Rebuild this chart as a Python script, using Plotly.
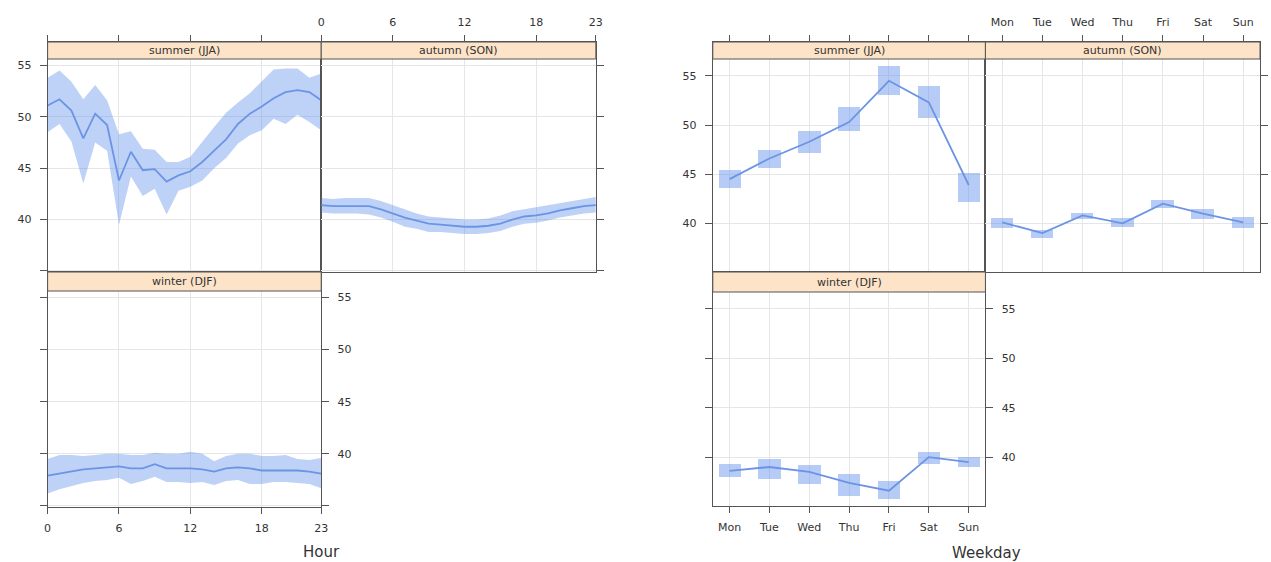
import plotly.graph_objects as go

W, H = 1271, 562

# ---- hourly means and confidence bands ----
hours = list(range(24))

summer_hour_mean = [51.1, 51.7, 50.6, 47.9, 50.3, 49.2, 43.8, 46.6, 44.8, 44.9, 43.7, 44.3,
                    44.7, 45.6, 46.7, 47.8, 49.3, 50.3, 51.0, 51.8, 52.4, 52.6, 52.4, 51.6]
summer_hour_upper = [53.8, 54.5, 53.4, 51.7, 53.1, 51.6, 48.3, 48.6, 46.9, 46.8, 45.6, 45.6,
                     46.1, 47.6, 49.0, 50.4, 51.4, 52.3, 53.4, 54.6, 54.7, 54.7, 53.8, 54.2]
summer_hour_lower = [48.5, 49.3, 47.6, 43.5, 47.5, 46.7, 39.5, 44.2, 42.3, 43.0, 40.5, 42.8,
                     43.2, 43.8, 45.0, 46.0, 47.4, 48.2, 48.7, 49.8, 49.3, 50.2, 49.5, 48.7]

autumn_hour_mean = [41.4, 41.3, 41.3, 41.3, 41.3, 41.0, 40.6, 40.2, 39.9, 39.6, 39.5, 39.4,
                    39.3, 39.3, 39.4, 39.6, 40.0, 40.3, 40.4, 40.6, 40.9, 41.1, 41.3, 41.4]
autumn_hour_upper = [42.1, 42.0, 42.1, 42.1, 42.1, 41.8, 41.4, 41.0, 40.6, 40.3, 40.2, 40.1,
                     40.0, 40.0, 40.1, 40.4, 40.8, 41.0, 41.2, 41.4, 41.6, 41.8, 42.0, 42.2]
autumn_hour_lower = [40.7, 40.6, 40.6, 40.6, 40.5, 40.2, 39.8, 39.3, 39.1, 38.8, 38.8, 38.7,
                     38.6, 38.6, 38.7, 38.9, 39.3, 39.6, 39.7, 39.9, 40.2, 40.4, 40.6, 40.7]

winter_hour_mean = [37.9, 38.1, 38.3, 38.5, 38.6, 38.7, 38.8, 38.6, 38.6, 39.0, 38.6, 38.6,
                    38.6, 38.5, 38.3, 38.6, 38.7, 38.6, 38.4, 38.4, 38.4, 38.4, 38.3, 38.1]
winter_hour_upper = [39.5, 39.9, 39.9, 39.8, 39.9, 40.0, 40.0, 39.9, 39.9, 40.1, 40.0, 40.0,
                     40.2, 40.0, 39.3, 39.8, 40.0, 40.0, 39.8, 39.8, 39.9, 39.5, 39.4, 39.6]
winter_hour_lower = [36.2, 36.6, 36.9, 37.2, 37.4, 37.5, 37.7, 37.1, 37.4, 37.8, 37.3, 37.3,
                     37.2, 37.3, 37.0, 37.4, 37.5, 37.1, 37.1, 37.3, 37.3, 37.2, 37.1, 36.7]

# ---- weekday means and confidence intervals ----
weekdays = ["Mon", "Tue", "Wed", "Thu", "Fri", "Sat", "Sun"]

summer_day_mean = [44.5, 46.6, 48.3, 50.3, 54.5, 52.3, 43.9]
summer_day_upper = [45.4, 47.5, 49.4, 51.8, 56.0, 54.0, 45.1]
summer_day_lower = [43.6, 45.6, 47.2, 49.4, 53.1, 50.7, 42.2]

autumn_day_mean = [40.1, 39.0, 40.8, 40.0, 42.0, 41.0, 40.1]
autumn_day_upper = [40.5, 39.3, 41.1, 40.5, 42.4, 41.5, 40.6]
autumn_day_lower = [39.5, 38.5, 40.4, 39.6, 41.6, 40.4, 39.5]

winter_day_mean = [38.6, 39.0, 38.5, 37.4, 36.6, 40.0, 39.5]
winter_day_upper = [39.3, 39.8, 39.2, 38.3, 37.6, 40.5, 40.0]
winter_day_lower = [38.0, 37.8, 37.3, 36.1, 35.8, 39.3, 39.0]

hour_ticks = [0, 6, 12, 18, 23]
y_ticks = [35, 40, 45, 50, 55]
y_ticktext = ["", "40", "45", "50", "55"]

LINE = "rgb(108,148,228)"
BAND = "rgba(100,145,235,0.42)"
BOX = "rgba(100,145,235,0.47)"
STRIP = "#fde3c7"
FRAME = "#555555"
GRID = "#e6e6e6"
TXT = "#333333"
FONT = "DejaVu Sans, sans-serif"


def px_x(p):
    return p / W


def px_y(p):
    return 1 - p / H


fig = go.Figure()

# panel geometry in pixels: (left, right, strip_top, strip_bottom, plot_bottom)
panels = {
    "hs": (44, 320, 42, 59, 272),
    "ha": (320, 597, 42, 59, 272),
    "hw": (44, 320, 272, 291, 507),
    "ds": (715, 990, 42, 59, 272),
    "da": (990, 1267, 42, 59, 272),
    "dw": (715, 990, 272, 292, 506),
}
# y scale of each chart: value at the strip bottom and at the plot bottom
hour_y = (55.62, 34.9)
day_y = (56.72, 35.05)

axis_ids = {"hs": 1, "ha": 2, "hw": 3, "ds": 4, "da": 5, "dw": 6}
strip_names = {"hs": "summer (JJA)", "ha": "autumn (SON)", "hw": "winter (DJF)",
               "ds": "summer (JJA)", "da": "autumn (SON)", "dw": "winter (DJF)"}

shapes = []
annotations = []

for key, (l, r, st, sb, pb) in panels.items():
    n = axis_ids[key]
    xa = "xaxis" if n == 1 else f"xaxis{n}"
    ya = "yaxis" if n == 1 else f"yaxis{n}"
    ytop_v, ybot_v = hour_y if key[0] == "h" else day_y
    # extend the range so the strip sits inside the axis domain
    per_px = (ytop_v - ybot_v) / (pb - sb)
    yr = [ybot_v, ytop_v + (sb - st) * per_px]

    row = key[1]
    is_hour = key[0] == "h"
    xcfg = dict(
        domain=[px_x(l), px_x(r)], anchor=f"y{n}" if n > 1 else "y",
        showline=True, linecolor=FRAME, linewidth=1, mirror=True,
        showgrid=True, gridcolor=GRID, gridwidth=1, zeroline=False,
        ticks="outside", ticklen=6, tickcolor=FRAME, ticklabelstandoff=5,
        tickfont=dict(size=11, color=TXT, family=FONT),
    )
    if is_hour:
        xcfg.update(range=[0, 23], tickvals=hour_ticks, ticktext=[str(t) for t in hour_ticks])
    else:
        xcfg.update(range=[0.58, 7.42], tickvals=list(range(1, 8)), ticktext=weekdays)
    if row == "s":
        xcfg.update(side="top", showticklabels=False)
    elif row == "a":
        xcfg.update(side="top", showticklabels=True)
    else:
        xcfg.update(side="bottom", showticklabels=True)

    ycfg = dict(
        domain=[px_y(pb), px_y(st)], anchor=f"x{n}" if n > 1 else "x",
        range=yr, showline=True, linecolor=FRAME, linewidth=1, mirror=True,
        showgrid=True, gridcolor=GRID, gridwidth=1, zeroline=False,
        ticks="outside", ticklen=7, tickcolor=FRAME, ticklabelstandoff=6,
        tickvals=y_ticks, ticktext=y_ticktext,
        tickfont=dict(size=11, color=TXT, family=FONT),
    )
    if row == "s":
        ycfg.update(side="left", showticklabels=True)
    elif row == "a":
        ycfg.update(side="right", showticklabels=False)
    else:
        ycfg.update(side="right", showticklabels=True, mirror="ticks")

    fig.update_layout(**{xa: xcfg, ya: ycfg})

    # strip with its label
    shapes.append(dict(type="rect", xref="paper", yref="paper",
                       x0=px_x(l), x1=px_x(r), y0=px_y(sb), y1=px_y(st),
                       fillcolor=STRIP, line=dict(color=FRAME, width=1), layer="above"))
    annotations.append(dict(xref="paper", yref="paper", x=px_x((l + r) / 2),
                            y=px_y((st + sb) / 2), text=strip_names[key], showarrow=False,
                            font=dict(size=11, color=TXT, family=FONT),
                            xanchor="center", yanchor="middle"))

# hourly bands and lines
hour_sets = {
    "hs": (summer_hour_mean, summer_hour_upper, summer_hour_lower),
    "ha": (autumn_hour_mean, autumn_hour_upper, autumn_hour_lower),
    "hw": (winter_hour_mean, winter_hour_upper, winter_hour_lower),
}
for key, (m, u, lo) in hour_sets.items():
    n = axis_ids[key]
    xr = f"x{n}" if n > 1 else "x"
    yr_ = f"y{n}" if n > 1 else "y"
    fig.add_trace(go.Scatter(x=hours + hours[::-1], y=u + lo[::-1], fill="toself",
                             fillcolor=BAND, line=dict(width=0), mode="lines",
                             xaxis=xr, yaxis=yr_, showlegend=False, hoverinfo="skip"))
    fig.add_trace(go.Scatter(x=hours, y=m, mode="lines", line=dict(color=LINE, width=1.8),
                             xaxis=xr, yaxis=yr_, showlegend=False))

# weekday interval boxes and lines
day_sets = {
    "ds": (summer_day_mean, summer_day_upper, summer_day_lower),
    "da": (autumn_day_mean, autumn_day_upper, autumn_day_lower),
    "dw": (winter_day_mean, winter_day_upper, winter_day_lower),
}
day_x = list(range(1, 8))
for key, (m, u, lo) in day_sets.items():
    n = axis_ids[key]
    xr = f"x{n}" if n > 1 else "x"
    yr_ = f"y{n}" if n > 1 else "y"
    fig.add_trace(go.Bar(x=day_x, y=[a - b for a, b in zip(u, lo)], base=lo, width=0.56,
                         marker=dict(color=BOX, line=dict(width=0)),
                         xaxis=xr, yaxis=yr_, showlegend=False, hoverinfo="skip"))
    fig.add_trace(go.Scatter(x=day_x, y=m, mode="lines", line=dict(color=LINE, width=1.8),
                             xaxis=xr, yaxis=yr_, showlegend=False))

# x-axis titles
annotations.append(dict(xref="paper", yref="paper", x=px_x(320), y=px_y(552), text="Hour",
                        showarrow=False, font=dict(size=15, color=TXT, family=FONT),
                        xanchor="center", yanchor="middle"))
annotations.append(dict(xref="paper", yref="paper", x=px_x(991), y=px_y(553), text="Weekday",
                        showarrow=False, font=dict(size=15, color=TXT, family=FONT),
                        xanchor="center", yanchor="middle"))

fig.update_layout(
    width=W, height=H, margin=dict(l=0, r=0, t=0, b=0),
    paper_bgcolor="white", plot_bgcolor="white",
    shapes=shapes, annotations=annotations, barmode="overlay", bargap=0,
    font=dict(family=FONT, color=TXT),
)

fig.write_html("out.html")
